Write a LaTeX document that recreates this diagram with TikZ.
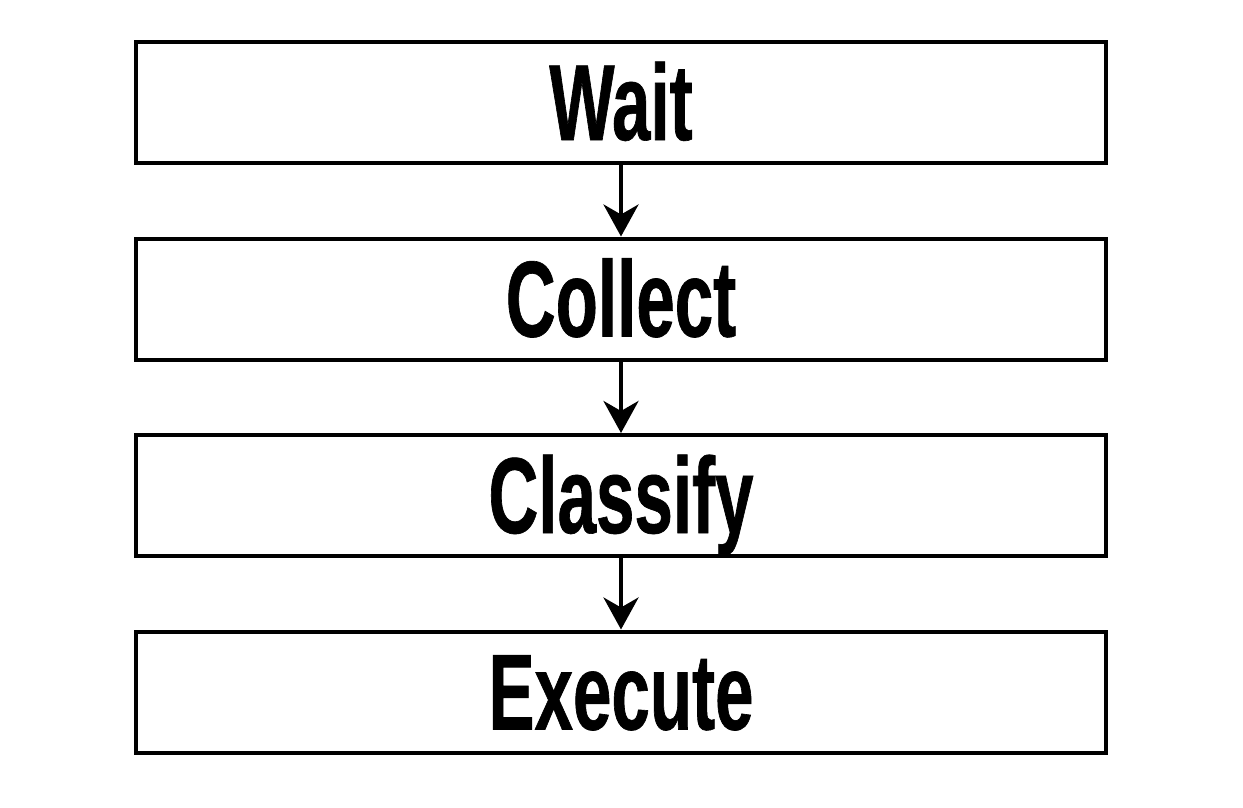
\documentclass[tikz,border=0pt]{standalone}
\usepackage{fontspec}
\usetikzlibrary{arrows.meta}
\newfontfamily\condfont[FakeStretch=0.64,FakeBold=0.6]{Liberation Sans}
\tikzset{
  stage/.style={draw, line width=4pt, minimum width=970pt, minimum height=121pt, inner sep=0pt,
    text height=75pt, text depth=0pt,
    font=\condfont\bfseries\fontsize{108}{108}\selectfont, text=black},
  flow/.style={line width=4pt, -{Stealth[length=32pt, width=35pt, inset=10pt]}}
}
\begin{document}
\begin{tikzpicture}[x=1pt,y=-1pt]
\useasboundingbox (0,0) rectangle (1243,808);
\node[stage] (w) at (621,102.5) {Wait};
\node[stage] (c) at (621,299) {Collect};
\node[stage] (k) at (621,495.5) {Classify};
\node[stage] (e) at (621,692) {Execute};
\draw[flow] (w.south) -- (c.north);
\draw[flow] (c.south) -- (k.north);
\draw[flow] (k.south) -- (e.north);
\end{tikzpicture}
\end{document}
